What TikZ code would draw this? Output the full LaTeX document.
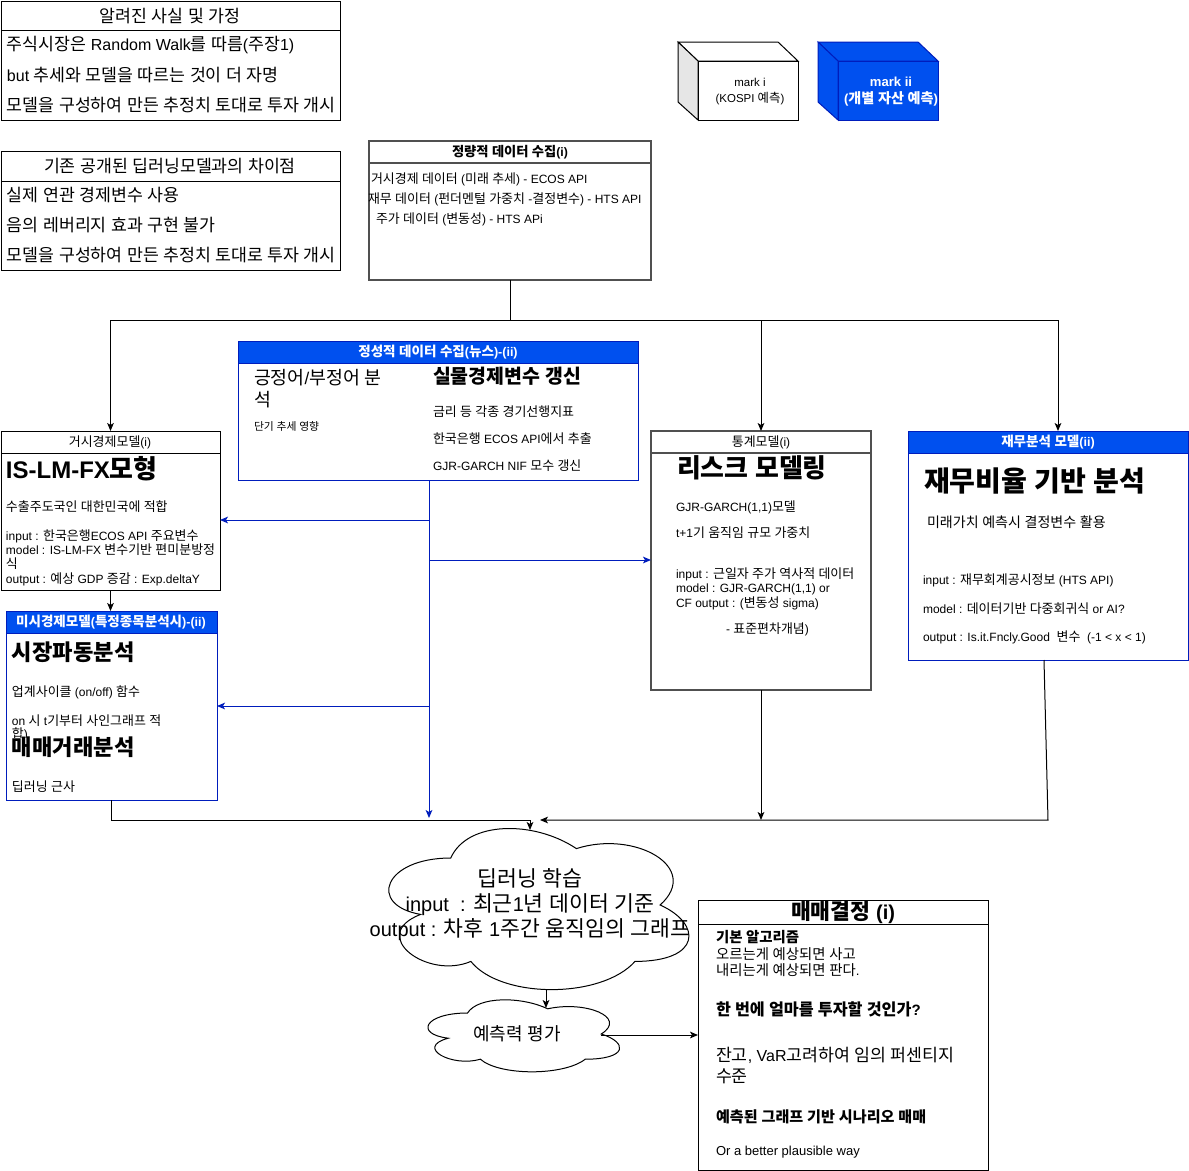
\documentclass[tikz,border=0pt]{standalone}
\usepackage{fontspec}
\setmainfont{Liberation Sans}
\newfontfamily\krf[Scale=1.08]{Noto Sans CJK KR}
\newfontfamily\latf{Liberation Sans}
\XeTeXinterchartokenstate=1
\newXeTeXintercharclass\krclass
\newcount\kc
\kc="AC00
\loop
\XeTeXcharclass\kc=\krclass
\ifnum\kc<"D7A3
\advance\kc by 1
\repeat
\XeTeXinterchartoks 0 \krclass = {\krf}
\XeTeXinterchartoks 4095 \krclass = {\krf}
\XeTeXinterchartoks \krclass 0 = {\latf}
\XeTeXinterchartoks \krclass 4095 = {\latf}
\usetikzlibrary{fit,arrows.meta}
\definecolor{dblue}{HTML}{0050EF}
\definecolor{dstroke}{HTML}{001DBC}
\definecolor{lgray}{HTML}{E6E6E6}
\definecolor{dgray}{HTML}{505050}
\newcommand\fs[2]{\fontsize{#1pt}{#2pt}\selectfont}
\newcommand\cloudshape[4]{%
 \draw[line width=0.75pt, fill=white] ({#1+0.25*#3},{#2+0.25*#4})
  .. controls ({#1+0.05*#3},{#2+0.25*#4}) and ({#1},{#2+0.5*#4}) .. ({#1+0.16*#3},{#2+0.55*#4})
  .. controls ({#1},{#2+0.66*#4}) and ({#1+0.18*#3},{#2+0.9*#4}) .. ({#1+0.31*#3},{#2+0.8*#4})
  .. controls ({#1+0.4*#3},{#2+#4}) and ({#1+0.7*#3},{#2+#4}) .. ({#1+0.8*#3},{#2+0.8*#4})
  .. controls ({#1+#3},{#2+0.8*#4}) and ({#1+#3},{#2+0.6*#4}) .. ({#1+0.875*#3},{#2+0.5*#4})
  .. controls ({#1+#3},{#2+0.3*#4}) and ({#1+0.8*#3},{#2+0.1*#4}) .. ({#1+0.625*#3},{#2+0.2*#4})
  .. controls ({#1+0.5*#3},{#2+0.05*#4}) and ({#1+0.3*#3},{#2+0.05*#4}) .. ({#1+0.25*#3},{#2+0.25*#4})
  -- cycle;}
\tikzset{
  box/.style={draw=black, line width=0.75pt, fill=white, inner sep=0pt, outer sep=0pt},
  gbox/.style={box, draw=dgray, line width=0.9pt},
  bluebox/.style={draw=dstroke, line width=0.75pt, fill=white, inner sep=0pt, outer sep=0pt},
  t/.style={anchor=west, inner sep=0pt, outer sep=0pt, text=black},
  tc/.style={anchor=center, inner sep=0pt, outer sep=0pt, align=center, text=black},
  wt/.style={tc, text=white, font=\bfseries\fs{9.4}{12}},
  ln/.style={draw=black, line width=0.75pt},
  arr/.style={ln, -{Stealth[length=6pt,width=5pt,inset=1.5pt]}},
  barr/.style={draw=dstroke, line width=0.75pt, -{Stealth[length=6pt,width=5pt,inset=1.5pt]}},
  hdr/.style={fill=dblue, draw=dstroke, line width=0.75pt},
}
\begin{document}
\begin{tikzpicture}[x=0.75pt,y=-0.75pt]
\useasboundingbox (0,0) rectangle (1189,1171);
\fill[white] (0,0) rectangle (1189,1171);

% ---- Box A
\node[box, fit={(1,1) (340,120)}] (A) {};
\draw[ln] (1,30) -- (340,30);
\node[tc, font=\fs{12}{14}] (A0) at (170,16) {알려진 사실 및 가정};
\node[t, font=\fs{12}{14}] (A1) at (7,45) {주식시장은 Random Walk를 따름(주장1)};
\node[t, font=\fs{12}{14}] (A2) at (7,75) {but 추세와 모델을 따르는 것이 더 자명};
\node[t, font=\fs{12}{14}] (A3) at (7,105) {모델을 구성하여 만든 추정치 토대로 투자 개시};

% ---- Box B
\node[box, fit={(1,151) (340,270)}] (B) {};
\draw[ln] (1,181) -- (340,181);
\node[tc, font=\fs{12}{14}] (B0) at (170,166) {기존 공개된 딥러닝모델과의 차이점};
\node[t, font=\fs{12}{14}] (B1) at (7,195) {실제 연관 경제변수 사용};
\node[t, font=\fs{12}{14}] (B2) at (7,225) {음의 레버리지 효과 구현 불가};
\node[t, font=\fs{12}{14}] (B3) at (7,255) {모델을 구성하여 만든 추정치 토대로 투자 개시};

% ---- Cubes
\draw[ln, fill=white] (678,42) -- (778,42) -- (798,61) -- (698,61) -- cycle;
\draw[ln, fill=lgray] (678,42) -- (698,61) -- (698,120) -- (678,102) -- cycle;
\node[box, fit={(698,61) (798,120)}] (K1) {};
\node[tc, font=\fs{8.6}{12.5}] (K1t) at (750,91.5) {mark i\\(KOSPI 예측)};
\draw[draw=dstroke, line width=0.75pt, fill=dblue] (818,42) -- (918,42) -- (938,61) -- (838,61) -- cycle;
\draw[draw=dstroke, line width=0.75pt, fill=dblue] (818,42) -- (838,61) -- (838,120) -- (818,102) -- cycle;
\node[box, draw=dstroke, fill=dblue, fit={(838,61) (938,120)}] (K2) {};
\node[tc, text=white, font=\bfseries\fs{9.8}{12.5}] (K2t) at (891,91.5) {mark ii\\(개별 자산 예측)};

% ---- Box C
\node[gbox, fit={(369,141) (651,280)}] (C) {};
\draw[draw=dgray, line width=0.9pt] (369,163) -- (651,163);
\node[tc, font=\bfseries\fs{9.2}{11}] (C0) at (510,152) {정량적 데이터 수집(i)};
\node[t, font=\fs{9}{11}] (C1) at (371,179) {거시경제 데이터 (미래 추세) - ECOS API};
\node[t, font=\fs{9}{11}] (C2) at (368,199) {재무 데이터 (펀더멘털 가중치 -결정변수) - HTS API};
\node[t, font=\fs{9}{11}] (C3) at (376,219) {주가 데이터 (변동성) - HTS APi};

% ---- Box D
\node[bluebox, fit={(238,341) (638,480)}] (D) {};
\draw[hdr] (238,341) rectangle (638,363);
\node[wt] (D0) at (438,352) {정성적 데이터 수집(뉴스)-(ii)};
\node[t, font=\fs{12.75}{16}] (D1) at (254,378) {긍정어/부정어 분};
\node[t, font=\fs{12.75}{16}] (D2) at (254,400) {석};
\node[t, font=\fs{7.5}{9}] (D3) at (254,426) {단기 추세 영향};
\node[t, font=\bfseries\fs{13.5}{16}] (D4) at (433,376) {실물경제변수 갱신};
\node[t, font=\fs{9}{11}] (D5) at (433,412) {금리 등 각종 경기선행지표};
\node[t, font=\fs{9}{11}] (D6) at (433,439) {한국은행 ECOS API에서 추출};
\node[t, font=\fs{9}{11}] (D7) at (433,466) {GJR-GARCH NIF 모수 갱신};

% ---- Box E
\node[box, fit={(1,431) (220,590)}] (E) {};
\draw[ln] (1,453) -- (220,453);
\node[tc, font=\fs{9}{11}] (E0) at (110,442) {거시경제모델(i)};
\node[t, font=\bfseries\fs{18}{20}] (E1) at (6,469) {IS-LM-FX모형};
\node[t, font=\fs{9}{11}] (E2) at (6,507) {수출주도국인 대한민국에 적합};
\node[t, font=\fs{9}{11}] (E3) at (6,536) {input : 한국은행ECOS API 주요변수};
\node[t, font=\fs{9}{11}] (E4) at (6,550) {model : IS-LM-FX 변수기반 편미분방정};
\node[t, font=\fs{9}{11}] (E5) at (6,564) {식};
\node[t, font=\fs{9}{11}] (E6) at (6,579) {output : 예상 GDP 증감 : Exp.deltaY};

% ---- Box F
\node[bluebox, fit={(6,611) (217,800)}] (F) {};
\draw[hdr] (6,611) rectangle (217,633);
\node[wt] (F0) at (111,622) {미시경제모델(특정종목분석시)-(ii)};
\node[t, font=\bfseries\fs{15.4}{18}] (F1) at (12,652) {시장파동분석};
\node[t, font=\fs{9}{11}] (F2) at (12,692) {업계사이클 (on/off) 함수};
\node[t, font=\fs{9}{11}] (F3) at (12,721) {on 시 t기부터 사인그래프 적};
\node[t, font=\fs{9}{11}] (F4) at (12,734) {합)};
\fill[white] (8,738) rectangle (214,760);
\node[t, font=\bfseries\fs{15.4}{18}] (F5) at (12,747) {매매거래분석};
\node[t, font=\fs{9}{11}] (F6) at (12,787) {딥러닝 근사};

% ---- Box G
\node[gbox, fit={(651,431) (871,690)}] (G) {};
\draw[draw=dgray, line width=0.9pt] (651,453) -- (871,453);
\node[tc, font=\fs{9}{11}] (G0) at (761,442) {통계모델(i)};
\node[t, font=\bfseries\fs{18}{20}] (G1) at (677,468) {리스크 모델링};
\node[t, font=\fs{9}{11}] (G2) at (676,507) {GJR-GARCH(1,1)모델};
\node[t, font=\fs{9}{11}] (G3) at (676,533) {t+1기 움직임 규모 가중치};
\node[t, font=\fs{9}{11}] (G4) at (676,574) {input : 근일자 주가 역사적 데이터};
\node[t, font=\fs{9}{11}] (G5) at (676,589) {model : GJR-GARCH(1,1) or};
\node[t, font=\fs{9}{11}] (G6) at (676,603) {CF output : (변동성 sigma)};
\node[t, font=\fs{9}{11}] (G7) at (726,629) {- 표준편차개념)};

% ---- Box H
\node[bluebox, fit={(908,431) (1188,660)}] (H) {};
\draw[hdr] (908,431) rectangle (1188,453);
\node[wt] (H0) at (1048,442) {재무분석 모델(ii)};
\node[t, font=\bfseries\fs{19.5}{22}] (H1) at (924,481) {재무비율 기반 분석};
\node[t, font=\fs{9.75}{11}] (H2) at (927,522) {미래가치 예측시 결정변수 활용};
\node[t, font=\fs{9}{11}] (H3) at (923,580) {input : 재무회계공시정보 (HTS API)};
\node[t, font=\fs{9}{11}] (H4) at (923,609) {model : 데이터기반 다중회귀식 or AI?};
\node[t, font=\fs{9}{11}] (H5) at (923,637) {output : Is.it.Fncly.Good~~변수~~(-1 < x < 1)};

% ---- Box I
\node[box, fit={(698,900) (988,1170)}] (I) {};
\draw[ln] (698,924) -- (988,924);
\node[tc, font=\bfseries\fs{15}{17}] (I0) at (843,912) {매매결정 (i)};
\node[t, font=\bfseries\fs{10}{12}] (I1) at (716,937) {기본 알고리즘};
\node[t, font=\fs{10}{12}] (I2) at (716,954) {오르는게 예상되면 사고};
\node[t, font=\fs{10}{12}] (I3) at (716,970) {내리는게 예상되면 판다.};
\node[t, font=\bfseries\fs{11.25}{13}] (I4) at (716,1009) {한 번에 얼마를 투자할 것인가?};
\node[t, font=\fs{12}{14}] (I5) at (716,1055) {잔고, VaR고려하여 임의 퍼센티지};
\node[t, font=\fs{12}{14}] (I6) at (716,1076) {수준};
\node[t, font=\bfseries\fs{10.5}{12}] (I7) at (716,1117) {예측된 그래프 기반 시나리오 매매};
\node[t, font=\fs{9.75}{12}] (I8) at (716,1152) {Or a better plausible way};

% ---- Clouds
\cloudshape{367}{811}{335}{188}
\node[tc, font=\fs{15}{18.75}] (L1) at (530,905) {딥러닝 학습\\input~ : 최근1년 데이터 기준\\output : 차후 1주간 움직임의 그래프};
\cloudshape{414}{992}{214}{84}
\node[tc, font=\fs{12.5}{14}] (L2) at (517,1034) {예측력 평가};

% ---- Connectors (black)
\coordinate (j1) at (510,320);
\coordinate (hN) at (1058,431);
\draw[ln] (C.south) -- (j1);
\draw[arr] (j1) -| (E.north);
\draw[arr] (j1) -| (G.north);
\draw[arr] (j1) -| (hN);
\draw[arr] (E.south) -- (E.south |- F.north);

% ---- Connectors (blue)
\coordinate (dS) at (429,480);
\coordinate (bE) at (429,818);
\coordinate (b1) at (429,520);
\coordinate (b2) at (429,560);
\coordinate (b3) at (429,706);
\draw[barr] (dS) -- (bE);
\draw[barr] (b1) -- (b1 -| E.east);
\draw[barr] (b2) -- (b2 -| G.west);
\draw[barr] (b3) -- (b3 -| F.east);

% ---- Bottom connectors
\coordinate (m1) at (530,820);
\coordinate (c1n) at (530,830);
\coordinate (hS) at (1044,660);
\coordinate (m2) at (1048,820);
\coordinate (m3) at (540,820);
\draw[arr] (F.south) |- (m1) -- (c1n);
\draw[arr] (hS) -- (m2) -- (m3);
\draw[arr] (G.south) -- (G.south |- m2);
\coordinate (c1s) at (546,990);
\coordinate (c2n) at (546,1008);
\coordinate (c2e) at (601,1035);
\draw[arr] (c1s) -- (c2n);
\draw[arr] (c2e) -- (I.west);
\end{tikzpicture}
\end{document}
